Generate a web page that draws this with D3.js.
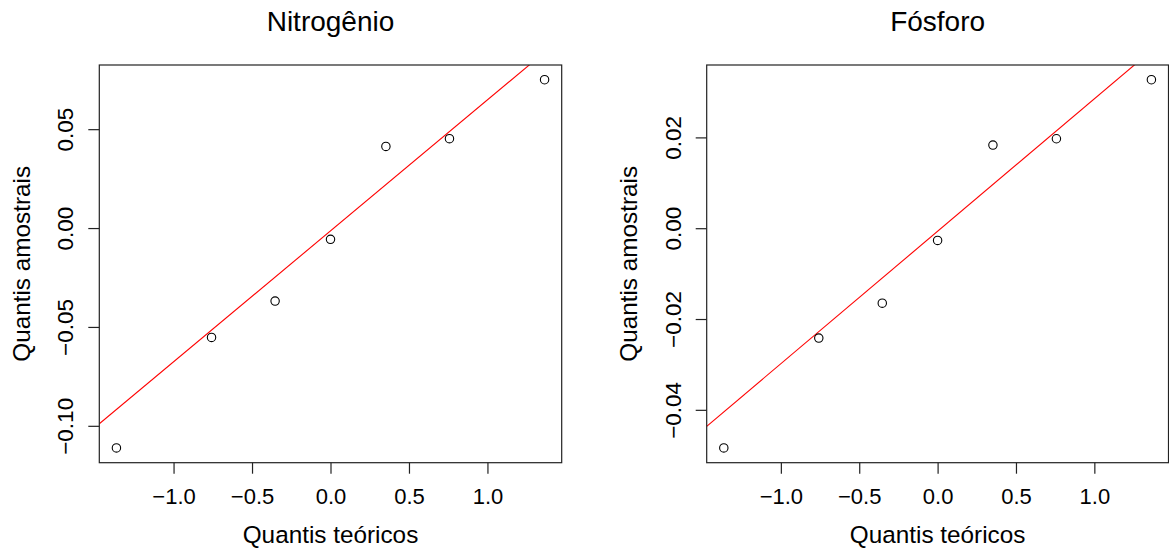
<!DOCTYPE html>
<html>
<head>
<meta charset="utf-8">
<script src="https://cdn.jsdelivr.net/npm/d3@7"></script>
<style>
  body { margin: 0; background: #fff; }
  svg { display: block; font-family: "Liberation Sans", Arial, sans-serif; }
</style>
</head>
<body>
<div id="chart"></div>
<script>
// quantis teoricos (eixo x, iguais nos dois graficos)
var teoricos = [-1.364, -0.758, -0.353, 0, 0.353, 0.758, 1.364]

// quantis amostrais
var nitrogenio = [-0.1112, -0.0553, -0.0369, -0.0057, 0.0413, 0.0452, 0.0750]
var fosforo = [-0.0484, -0.0242, -0.0165, -0.0027, 0.0183, 0.0197, 0.0327]

var titulos = ["Nitrogênio", "Fósforo"]
var xTicks = [-1, -0.5, 0, 0.5, 1]
var yTicksN = [-0.10, -0.05, 0, 0.05]
var yTicksP = [-0.04, -0.02, 0, 0.02]

var xLabel = "Quantis teóricos"
var yLabel = "Quantis amostrais"

var zq = 0.6745 // qnorm(0.75), usado pela qqline

var width = 1169,
  height = 550

var svg = d3.select("#chart")
  .append("svg")
  .attr("width", width)
  .attr("height", height)

var painel = [
  { titulo: titulos[0], y: nitrogenio, yTicks: yTicksN, left: 99.3, right: 561.7 },
  { titulo: titulos[1], y: fosforo, yTicks: yTicksP, left: 706.7, right: 1168.5 }
]
var plotTop = 65,
  plotBottom = 462.7

function fmt(v, d) {
  return (v < 0 ? "\u2212" : "") + Math.abs(v).toFixed(d)
}

function padded(ext) {
  var p = (ext[1] - ext[0]) * 0.04
  return [ext[0] - p, ext[1] + p]
}

painel.forEach(function (p, i) {
  var x = d3.scaleLinear()
    .domain(padded(d3.extent(teoricos)))
    .range([p.left, p.right])

  var y = d3.scaleLinear()
    .domain(padded(d3.extent(p.y)))
    .range([plotBottom, plotTop])

  var g = svg.append("g")

  g.append("clipPath")
    .attr("id", "clip" + i)
    .append("rect")
    .attr("x", p.left)
    .attr("y", plotTop)
    .attr("width", p.right - p.left)
    .attr("height", plotBottom - plotTop)

  // qqline: passa pelos quartis
  var sorted = p.y.slice().sort(d3.ascending)
  var q1 = d3.quantile(sorted, 0.25),
    q3 = d3.quantile(sorted, 0.75)
  var slope = (q3 - q1) / (2 * zq)
  var inter = q1 + slope * zq
  var xd = x.domain()

  g.append("line")
    .attr("clip-path", "url(#clip" + i + ")")
    .attr("x1", x(xd[0]))
    .attr("y1", y(inter + slope * xd[0]))
    .attr("x2", x(xd[1]))
    .attr("y2", y(inter + slope * xd[1]))
    .attr("stroke", "#ff0000")
    .attr("stroke-width", 1.1)

  g.selectAll(".pt")
    .data(p.y)
    .enter()
    .append("circle")
    .attr("class", "pt")
    .attr("cx", function (d, j) { return x(teoricos[j]) })
    .attr("cy", function (d) { return y(d) })
    .attr("r", 4.2)
    .attr("fill", "none")
    .attr("stroke", "#000")
    .attr("stroke-width", 1.1)

  g.append("rect")
    .attr("x", p.left)
    .attr("y", plotTop)
    .attr("width", p.right - p.left)
    .attr("height", plotBottom - plotTop)
    .attr("fill", "none")
    .attr("stroke", "#222")
    .attr("stroke-width", 1.2)

  var xAxis = g.append("g")
    .attr("transform", "translate(0," + plotBottom + ")")
    .call(d3.axisBottom(x)
      .tickValues(xTicks)
      .tickSize(11)
      .tickSizeOuter(0)
      .tickFormat(function (d) { return fmt(d, 1) }))
  xAxis.select(".domain").remove()
  xAxis.selectAll("line").attr("stroke", "#222").attr("stroke-width", 1.2)
  xAxis.selectAll("text")
    .attr("y", 41.5)
    .attr("dy", null)
    .attr("fill", "#000")
    .style("font-size", "22px")
    .style("font-family", "Liberation Sans, Arial, sans-serif")

  var yAxis = g.append("g")
    .attr("transform", "translate(" + p.left + ",0)")
    .call(d3.axisLeft(y)
      .tickValues(p.yTicks)
      .tickSize(11)
      .tickSizeOuter(0)
      .tickFormat(function (d) { return fmt(d, 2) }))
  yAxis.select(".domain").remove()
  yAxis.selectAll("line").attr("stroke", "#222").attr("stroke-width", 1.2)
  yAxis.selectAll("text")
    .attr("x", 0)
    .attr("y", -26)
    .attr("dy", null)
    .attr("transform", "rotate(-90)")
    .attr("text-anchor", "middle")
    .attr("fill", "#000")
    .style("font-size", "22.5px")
    .style("font-family", "Liberation Sans, Arial, sans-serif")

  var cx = (p.left + p.right) / 2,
    cy = (plotTop + plotBottom) / 2

  g.append("text")
    .attr("x", cx)
    .attr("y", 30.5)
    .attr("text-anchor", "middle")
    .style("font-size", "28px")
    .text(p.titulo)

  g.append("text")
    .attr("x", cx)
    .attr("y", 543)
    .attr("text-anchor", "middle")
    .style("font-size", "24.3px")
    .text(xLabel)

  g.append("text")
    .attr("transform", "translate(" + (p.left - 69.5) + "," + cy + ") rotate(-90)")
    .attr("text-anchor", "middle")
    .style("font-size", "24.3px")
    .text(yLabel)
})
</script>
</body>
</html>
